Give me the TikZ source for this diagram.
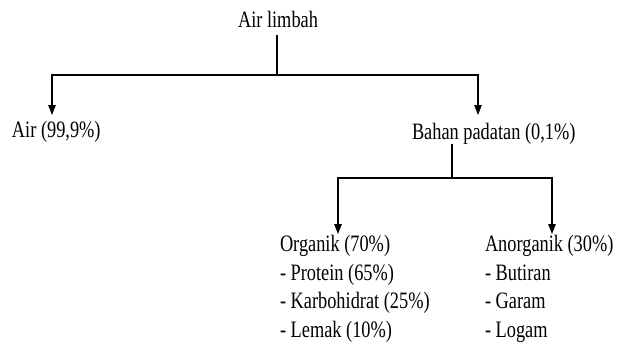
\documentclass[tikz,border=0pt]{standalone}
\usepackage{fontspec}
\setmainfont[FakeStretch=0.78]{Liberation Serif}
\usetikzlibrary{arrows.meta}

\begin{document}
\begin{tikzpicture}[
    x = 1pt,
    y = -1pt,
    >={Triangle[length=10pt, width=7.5pt]},
    line width=1.1pt,
    txt/.style = {font=\fontsize{23.5}{28.4}\selectfont, inner sep=0pt,
              outer sep=0pt, align=left},
    ]
\useasboundingbox (0,0) rectangle (619,349);

\node[txt, anchor=base] (limbah) at (278,27){Air limbah};
\node[txt, anchor=base west] (air) at (12,137){Air (99,9\%)};
\node[txt, anchor=base west] (padatan) at (412,139){Bahan padatan (0,1\%)};
\node[txt, anchor=north west] (organik) at (280,235.5){Organik (70\%)\\- Protein (65\%)\\- Karbohidrat (25\%)\\- Lemak (10\%)};
\node[txt, anchor=north west] (anorganik) at (485,235.5){Anorganik (30\%)\\- Butiran\\- Garam\\- Logam};

\coordinate (fork_1) at (277,75);
\coordinate (tip_air) at (52,115);
\coordinate (tip_padatan) at (478,115);
\draw (limbah.south -| fork_1) ++(0,8) -- (fork_1);
\draw [->] (fork_1) -| (tip_air);
\draw [->] (fork_1) -| (tip_padatan);

\coordinate (fork_2) at (452,178);
\coordinate (tip_organik) at (338,234);
\coordinate (tip_anorganik) at (552,234);
\draw (padatan.south -| fork_2) -- (fork_2);
\draw [->] (fork_2) -| (tip_organik);
\draw [->] (fork_2) -| (tip_anorganik);

\end{tikzpicture}
\end{document}
